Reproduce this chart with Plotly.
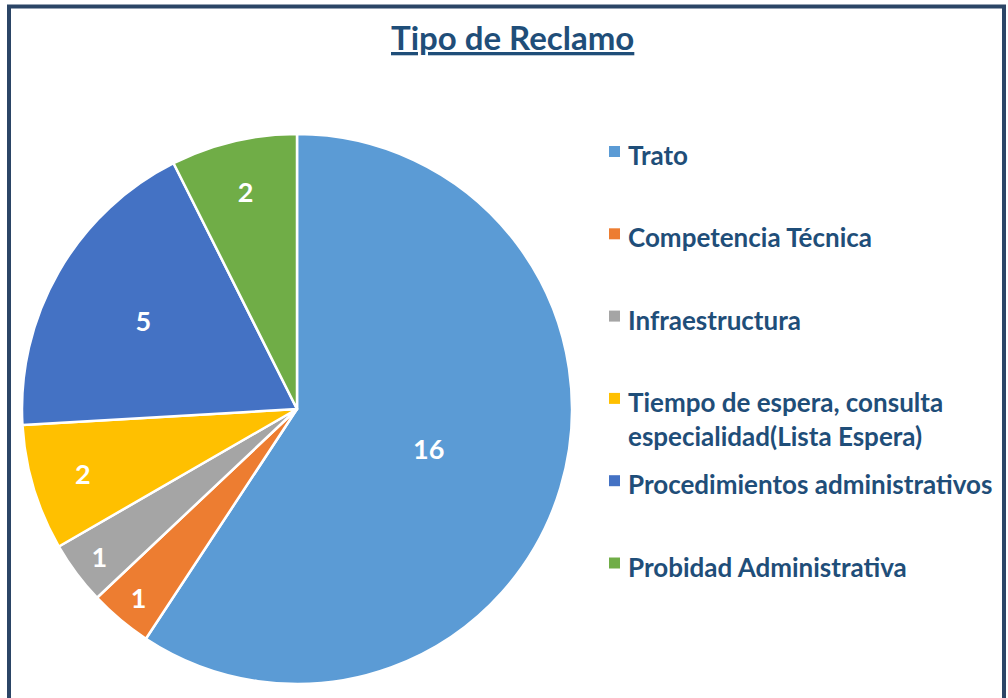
import plotly.graph_objects as go

labels = ["Trato", "Competencia Técnica", "Infraestructura",
          "Tiempo de espera, consulta<br>especialidad(Lista Espera)",
          "Procedimientos administrativos", "Probidad Administrativa"]
values = [16, 1, 1, 2, 5, 2]
colors = ["#5B9BD5", "#ED7D31", "#A5A5A5", "#FFC000", "#4472C4", "#70AD47"]

W, H = 1008, 698
text_color = "#1F4E79"
font_name = "Lato"

fig = go.Figure(go.Pie(
    labels=labels, values=values, sort=False, direction="clockwise", rotation=0,
    marker=dict(colors=colors, line=dict(color="white", width=2.5)),
    textinfo="value", textposition="inside", insidetextorientation="horizontal",
    textfont=dict(family=font_name, size=27, color="white", weight="bold"),
    domain=dict(x=[22 / W, 572 / W], y=[(H - 684) / H, (H - 134) / H]),
    showlegend=False, hoverinfo="label+value",
))

# legend drawn by hand so the row spacing matches the reference
for i, (lab, col) in enumerate(zip(labels, colors)):
    y_top = 137 + i * 82.3
    fig.add_shape(type="rect", xref="paper", yref="paper",
                  x0=609 / W, x1=620 / W, y0=1 - (y_top + 9) / H, y1=1 - (y_top + 20) / H,
                  fillcolor=col, line_width=0)
    fig.add_annotation(x=626 / W, y=1 - y_top / H, xref="paper", yref="paper",
                       xanchor="left", yanchor="top", align="left", showarrow=False,
                       text=lab, font=dict(family=font_name, size=26, color=text_color, weight="bold"))

fig.add_annotation(x=512 / W, y=1 - 37 / H, xref="paper", yref="paper", showarrow=False,
                   xanchor="center", yanchor="middle",
                   text="<u>Tipo de Reclamo</u>",
                   font=dict(family=font_name, size=33, color=text_color, weight="bold"))

# outer frame
fig.add_shape(type="rect", xref="paper", yref="paper", x0=9 / W, x1=1004 / W, y0=-0.02, y1=1 - 6.5 / H,
              line=dict(color="#2B4566", width=4))

fig.update_layout(width=W, height=H, margin=dict(l=0, r=0, t=0, b=0),
                  paper_bgcolor="white", plot_bgcolor="white", uniformtext=dict(minsize=27, mode="show"))

fig.write_html("out.html", config={"displayModeBar": False},
               post_script="document.body.style.margin='0';document.body.style.overflow='hidden';")
